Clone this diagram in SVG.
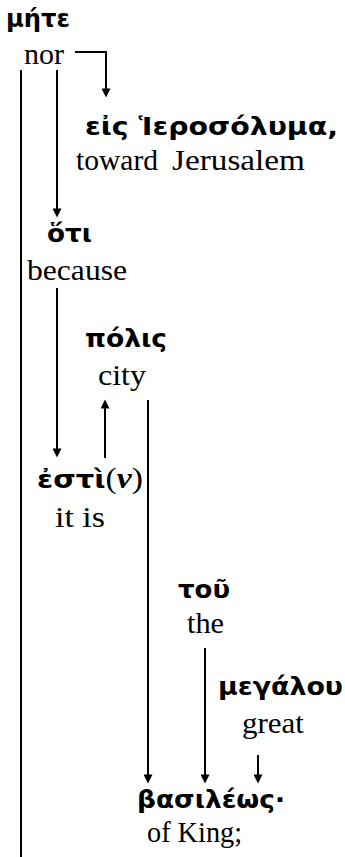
<svg xmlns="http://www.w3.org/2000/svg" width="345" height="857" viewBox="0 0 345 857">
<style>
.gk{font-family:"DejaVu Sans","Noto Sans",sans-serif;font-weight:bold;font-size:25px;fill:#000}
.en{font-family:"Liberation Serif","Times New Roman",serif;font-size:30px;fill:#000}
.ln{stroke:#000;stroke-width:2;fill:none}
.ar{marker-end:url(#ah)}
</style>
<defs>
<marker id="ah" viewBox="0 0 10 10" refX="4" refY="5" markerWidth="12" markerHeight="9" markerUnits="userSpaceOnUse" orient="auto">
<path d="M0,0 L10,5 L0,10 z" fill="#000"/>
</marker>
</defs>
<rect width="345" height="857" fill="#fff"/>
<g id="connectors">
<line class="ln" x1="21" y1="70" x2="21" y2="857"/>
<path class="ln ar" d="M75,52 H106 V92"/>
<line class="ln ar" x1="57" y1="70" x2="57" y2="212"/>
<line class="ln ar" x1="57" y1="288" x2="57" y2="452"/>
<line class="ln ar" x1="105" y1="458" x2="105" y2="405"/>
<line class="ln ar" x1="148" y1="400" x2="148" y2="778"/>
<line class="ln ar" x1="205" y1="648" x2="205" y2="778"/>
<line class="ln ar" x1="258" y1="755" x2="258" y2="778"/>
</g>
<g id="n-mete"><text class="gk" x="6" y="27" textLength="64" lengthAdjust="spacingAndGlyphs">μήτε</text><text class="en" x="24" y="64" textLength="40" lengthAdjust="spacingAndGlyphs">nor</text></g>
<g id="n-eis"><text class="gk" x="85" y="135" textLength="253" lengthAdjust="spacingAndGlyphs">εἰς Ἱεροσόλυμα,</text><text class="en" y="170"><tspan x="76" textLength="82" lengthAdjust="spacingAndGlyphs">toward</tspan><tspan x="172" textLength="133" lengthAdjust="spacingAndGlyphs">Jerusalem</tspan></text></g>
<g id="n-hoti"><text class="gk" x="47" y="242" textLength="45" lengthAdjust="spacingAndGlyphs">ὅτι</text><text class="en" x="27" y="280" textLength="100" lengthAdjust="spacingAndGlyphs">because</text></g>
<g id="n-polis"><text class="gk" x="85" y="347" textLength="82" lengthAdjust="spacingAndGlyphs">πόλις</text><text class="en" x="98" y="385" textLength="48" lengthAdjust="spacingAndGlyphs">city</text></g>
<g id="n-esti"><text class="gk" x="37" y="488" textLength="106" lengthAdjust="spacingAndGlyphs">ἐστὶ<tspan font-family="Liberation Serif, serif" font-weight="normal" font-size="29">(</tspan><tspan font-family="Liberation Serif, serif" font-style="italic" font-size="29">ν</tspan><tspan font-family="Liberation Serif, serif" font-weight="normal" font-size="29">)</tspan></text><text class="en" x="55" y="527" textLength="50" lengthAdjust="spacingAndGlyphs">it is</text></g>
<g id="n-tou"><text class="gk" x="178" y="598" textLength="52" lengthAdjust="spacingAndGlyphs">τοῦ</text><text class="en" x="187" y="633" textLength="37" lengthAdjust="spacingAndGlyphs">the</text></g>
<g id="n-megalou"><text class="gk" x="218" y="695" textLength="125" lengthAdjust="spacingAndGlyphs">μεγάλου</text><text class="en" x="242" y="733" textLength="62" lengthAdjust="spacingAndGlyphs">great</text></g>
<g id="n-basileos"><text class="gk" x="137" y="808" textLength="148" lengthAdjust="spacingAndGlyphs">βασιλέως·</text><text class="en" x="147" y="842" textLength="95" lengthAdjust="spacingAndGlyphs">of King;</text></g>
</svg>
